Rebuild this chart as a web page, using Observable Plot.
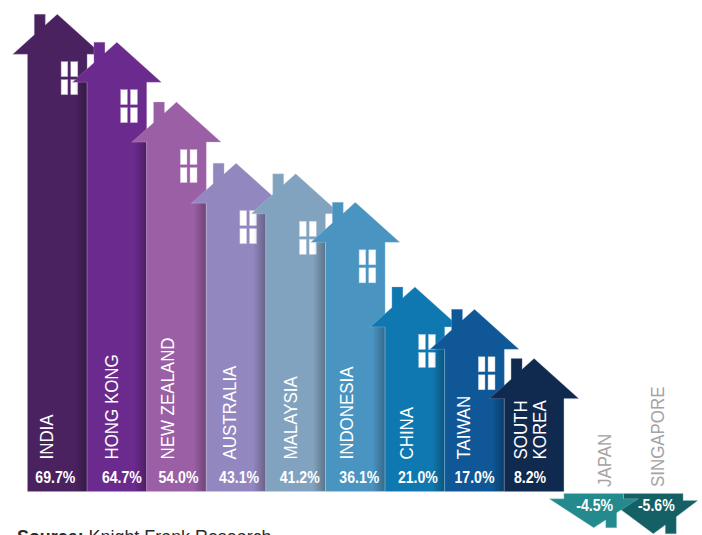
<!DOCTYPE html>
<html><head><meta charset="utf-8">
<script src="https://cdn.jsdelivr.net/npm/d3@7"></script>
<script src="https://cdn.jsdelivr.net/npm/@observablehq/plot@0.6"></script>
<style>
html,body{margin:0;padding:0;background:#fff;width:702px;height:535px;overflow:hidden;position:relative}
#source{position:absolute;left:17px;top:526.5px;font:17.9px/20px "Liberation Sans",Arial,sans-serif;color:#2a2a2a;white-space:nowrap}
</style></head><body>
<div id="chart"></div>
<div id="source"><b>Source:</b> Knight Frank Research</div>
<script>
// Data
const countries = ["INDIA","HONG KONG","NEW ZEALAND","AUSTRALIA","MALAYSIA","INDONESIA","CHINA","TAIWAN","SOUTH\nKOREA","JAPAN","SINGAPORE"];
const values = [69.7,64.7,54.0,43.1,41.2,36.1,21.0,17.0,8.2,-4.5,-5.6];
const valueLabels = ["69.7%","64.7%","54.0%","43.1%","41.2%","36.1%","21.0%","17.0%","8.2%","-4.5%","-5.6%"];
// Styling
const colors = ["#4a2260","#6b2a8d","#9a5fa5","#9287bf","#82a3bf","#4a94c2","#0f78b0","#0f5796","#10294f","#258a8e","#146065"];
const edges  = ["#b9a3c6","#c0a3d0","#d3b8d8","#cfcae4","#c8d8e4","#b5d3e6","#9cc8e0","#9cbcd8","#8c9ab0","#a8d4d6","#a0c8ca"];
const nameDx  = [-11,-5,-9,-6,-5,-9,-8,-11,-4,11,4];
const valueDx = [-2,5,2,3,4,4,3,0,-4,1,3];

// Scale factors: one x unit is one country band, y units are percentage points
const W = 702, H = 535, baseline = 491, pxPerPct = 5.6, band = 59.6, left = 27;
const ux = px => px / band, uy = px => px / pxPerPct;
const roofTop = uy(87), eaveDrop = uy(40);

function houseUp(i) {
  const c = i + 0.5, v = values[i], top = v + roofTop, eave = top - eaveDrop;
  const s = eaveDrop / ux(44.5);                // roof slope, y units per x unit
  return [
    [-44.5, eave],[-23, top - s*ux(23)],[-23, top],[-12, top],[-12, top - s*ux(12)],
    [0, top],[44.5, eave],[29.8, eave],[29.8, 0],[-29.8, 0],[-29.8, eave],[-44.5, eave]
  ].map(([dx, y]) => ({x: c + ux(dx), y}));
}
function houseDown(i) {
  const c = i + 0.5, v = values[i], tip = v - uy(11), eave = v * 0.29, head = -uy(2);
  const s = (eave - tip) / ux(44.5);
  return [
    [-29.8, head],[-29.8, eave],[-44.5, eave],[0, tip],[12, tip + s*ux(12)],[12, tip],[23, tip],
    [23, tip + s*ux(23)],[44.5, eave],[29.8, eave],[29.8, head],[-29.8, head]
  ].map(([dx, y]) => ({x: c + ux(dx), y}));
}
const panes = i => {
  const c = i + 0.5, top = values[i] + roofTop;
  return [[4.3,11,48,63],[14,21,48,63],[4.3,11,66,81],[14,21,66,81]].map(([a,b,d,e]) => ({
    x1: c + ux(a), x2: c + ux(b), y1: top - uy(d), y2: top - uy(e)
  }));
};

const marks = [];
const order = [0,1,2,3,4,5,6,7,8,10,9];
for (const i of order) {
  const up = values[i] > 0;
  marks.push(Plot.line(up ? houseUp(i) : houseDown(i), {
    x:"x", y:"y", fill: colors[i], stroke: edges[i], strokeWidth: 0.5, strokeOpacity: 0.6, curve:"linear", strokeLinejoin:"miter"
  }));
  if (up && i < 8) {
    marks.push(Plot.rect(panes(i), {x1:"x1",x2:"x2",y1:"y1",y2:"y2",fill:"#fff",stroke:edges[i],strokeWidth:0.5}));
    const nextEave = values[i+1] + roofTop - eaveDrop;
    marks.push(Plot.rect([{x1:i+1-ux(12), x2:i+1, y1:0, y2:nextEave}], {
      x1:"x1",x2:"x2",y1:"y1",y2:"y2",fill:"url(#shade)"
    }));
  }
}
const labels = countries.map((name,i) => ({
  name, i, value: valueLabels[i], neg: values[i] < 0,
  ny: values[i] < 0 ? uy(4.5) : uy(32),
  vy: values[i] < 0 ? -uy(14.5) : uy(13.5)
}));
marks.push(Plot.text(labels, {
  x: d => d.i + 0.5, y:"ny", text:"name", rotate:-90, textAnchor:"start", lineAnchor:"middle",
  lineHeight:1.02, fontSize:19, fontFamily:'"Liberation Sans",Arial,sans-serif',
  fill: d => d.neg ? "#a3a3a3" : "#ffffff"
}));
marks.push(Plot.text(labels, {
  x: d => d.i + 0.5, y:"vy", text:"value", fontSize:17, fontWeight:"bold", fill:"#fff",
  fontFamily:'"Liberation Sans",Arial,sans-serif'
}));

const chart = Plot.plot({
  width:W, height:H, margin:0,
  style:{background:"transparent"},
  x:{type:"linear", domain:[0,11], range:[left, left+band*11], axis:null},
  y:{type:"linear", domain:[(baseline-H)/pxPerPct, baseline/pxPerPct], range:[H,0], axis:null},
  color:{type:"identity"},
  marks
});
chart.insertAdjacentHTML("afterbegin",
 '<defs><linearGradient id="shade" x1="0" x2="1" y1="0" y2="0"><stop offset="0" stop-color="#000" stop-opacity="0"/><stop offset="1" stop-color="#000" stop-opacity="0.28"/></linearGradient></defs>');
// label nudges and the reference's narrow letterforms
const nudge = (t, dx, sx) => t.setAttribute("transform",
  t.getAttribute("transform").replace(/translate\(([-\d.]+)/, (m,a)=>"translate("+(+a+dx)) + ` scale(${sx},1)`);
const texts = chart.querySelectorAll('g[aria-label="text"]');
texts[0].querySelectorAll("text").forEach((t,k)=>nudge(t,nameDx[k],0.89));
texts[1].querySelectorAll("text").forEach((t,k)=>nudge(t,valueDx[k],0.83));
document.getElementById("chart").appendChild(chart);
</script>
</body></html>
